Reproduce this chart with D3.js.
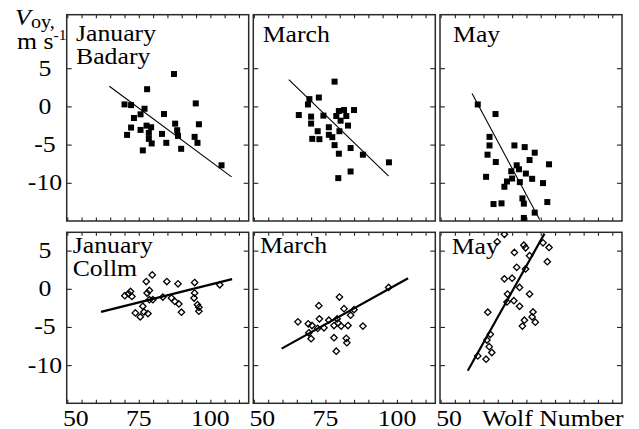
<!DOCTYPE html>
<html>
<head>
<meta charset="utf-8">
<script src="https://cdn.jsdelivr.net/npm/d3@7"></script>
</head>
<body style="margin:0;background:#fff">
<script>
// ---- axis setup ----
const wolfDomain = [49.8, 113.4];
const wolfTicks = d3.range(50, 115, 5);
const wolfLabels = [50, 75, 100];
const vTicks = [5, 0, -5, -10];
const topVDomain = [-15, 12];
const bottomVDomain = [-15, 7.4];

// ---- Badary (filled squares): [Wolf number, Voy m/s] ----
const badaryJanuary = [
  [70.0, 0.26], [72.3, 0.17], [77.9, 2.25], [87.3, 4.24], [94.9, 0.39], [77.0, -0.31],
  [75.6, -1.04], [83.8, -1.0], [73.3, -1.52], [87.7, -2.26], [96.0, -2.34], [72.3, -2.77],
  [77.7, -2.52], [79.3, -2.73], [88.4, -3.12], [75.6, -3.08], [78.5, -3.47], [70.9, -3.73],
  [83.1, -3.6], [88.7, -3.86], [94.5, -3.99], [78.5, -4.25], [84.6, -4.77], [79.5, -4.85],
  [95.5, -4.77], [89.8, -5.55], [76.4, -5.76], [103.9, -7.71]
];
const badaryMarch = [
  [78.2, 3.24], [69.4, 0.95], [72.7, 1.16], [68.9, 0.25], [65.7, -1.13], [70.0, -1.34],
  [74.3, -1.21], [79.7, -0.61], [81.5, -0.48], [85.0, -0.48], [78.8, -1.26], [82.3, -1.26],
  [80.3, -1.87], [70.0, -2.25], [82.9, -2.51], [76.2, -2.73], [72.3, -3.25], [79.9, -3.25],
  [76.2, -3.72], [77.4, -4.03], [70.4, -4.25], [72.9, -4.29], [78.2, -5.07], [83.8, -5.45],
  [79.7, -6.19], [88.1, -6.32], [97.2, -7.32], [83.8, -8.52], [79.5, -9.39]
];
const badaryMay = [
  [63.0, 0.25], [69.2, -1.0], [67.1, -3.99], [67.1, -5.11], [75.8, -5.11], [79.4, -5.33],
  [82.9, -6.06], [66.4, -6.32], [81.1, -7.02], [69.3, -7.28], [87.9, -7.58], [76.6, -7.71],
  [77.4, -8.23], [74.7, -8.49], [79.8, -8.79], [65.9, -9.22], [82.0, -9.48], [75.0, -9.44],
  [73.2, -9.83], [77.7, -9.91], [85.8, -10.04], [72.3, -10.52], [78.6, -12.04], [87.3, -12.52],
  [68.5, -12.78], [71.3, -12.69], [79.1, -12.73], [82.9, -13.9], [79.1, -14.6]
];

// ---- Collm (open diamonds): [Wolf number, Voy m/s] ----
const collmJanuary = [
  [79.7, 1.82], [77.6, 0.95], [84.8, 0.95], [88.7, 0.65], [94.5, 0.82], [103.3, 0.52],
  [78.7, -0.22], [72.1, -0.35], [71.4, -0.65], [70.1, -0.91], [72.6, -1.0], [77.9, -0.56],
  [83.4, -1.08], [86.4, -1.21], [94.5, -0.56], [94.3, -1.21], [79.9, -1.43], [78.7, -1.43],
  [87.6, -1.65], [89.0, -1.99], [95.5, -2.08], [96.0, -2.42], [76.4, -2.29], [96.0, -2.94],
  [89.9, -3.07], [76.8, -3.03], [78.2, -3.25], [73.8, -3.16], [75.5, -3.68]
];
const collmMarch = [
  [79.9, -1.08], [72.7, -2.21], [81.5, -2.6], [85.0, -2.73], [83.8, -3.46], [72.9, -3.94],
  [76.2, -4.11], [79.1, -3.94], [65.4, -4.33], [69.0, -4.59], [70.3, -4.81], [79.4, -4.46],
  [78.0, -4.81], [80.5, -4.89], [82.9, -4.81], [72.3, -5.19], [74.5, -5.11], [88.1, -4.89],
  [69.2, -5.76], [70.0, -6.54], [78.0, -6.41], [82.3, -6.49], [82.5, -7.06], [78.8, -8.18],
  [97.1, 0.17]
];
const collmMay = [
  [72.3, 7.14], [69.8, 6.15], [79.1, 5.71], [79.7, 5.37], [75.8, 4.76], [85.8, 6.02],
  [87.9, 5.41], [81.1, 4.33], [87.3, 3.55], [76.6, 2.81], [79.7, 2.6], [72.3, 1.3],
  [75.0, 1.39], [77.6, 0.17], [73.4, -0.69], [81.1, -0.69], [75.6, -1.56], [73.2, -1.73],
  [77.6, -2.29], [66.5, -3.07], [82.3, -3.03], [82.0, -3.68], [79.3, -4.11], [83.1, -4.37],
  [78.6, -4.89], [67.4, -5.97], [66.2, -6.71], [67.0, -7.58], [67.9, -8.35], [63.0, -8.79],
  [65.9, -9.22]
];

// ---- linear fits: start and end points ----
const fitBadaryJanuary = [[64.7, 2.64], [107.4, -9.23]];
const fitBadaryMarch = [[62.2, 3.5], [97.1, -9.14]];
const fitBadaryMay = [[61.0, 1.68], [84.6, -14.8]];
const fitCollmJanuary = [[61.8, -3.03], [107.6, 1.26]];
const fitCollmMarch = [[59.7, -7.84], [103.9, 1.39]];
const fitCollmMay = [[59.5, -10.74], [86.3, 7.23]];

// ---- layout ----
const W = 639, H = 429;
const FS = 23, SX = 1.12;          // font size and horizontal stretch of the serif text
const colLeft = [66.7, 253.3, 440];
const panelW = 182;
const rows = [
  { top: 14.7, bottom: 221, domain: topVDomain },
  { top: 232.3, bottom: 403.3, domain: bottomVDomain }
];

const panels = [
  { row: 0, col: 0, data: badaryJanuary, fit: fitBadaryJanuary, mark: "square", title: ["January", "Badary"], tx: 9.3, ty: 40.7 },
  { row: 0, col: 1, data: badaryMarch, fit: fitBadaryMarch, mark: "square", title: ["March"], tx: 9.4, ty: 41.7 },
  { row: 0, col: 2, data: badaryMay, fit: fitBadaryMay, mark: "square", title: ["May"], tx: 13, ty: 41.7 },
  { row: 1, col: 0, data: collmJanuary, fit: fitCollmJanuary, mark: "diamond", title: ["January", "Collm"], tx: 6, ty: 252.7 },
  { row: 1, col: 1, data: collmMarch, fit: fitCollmMarch, mark: "diamond", title: ["March"], tx: 6.7, ty: 253.3 },
  { row: 1, col: 2, data: collmMay, fit: fitCollmMay, mark: "diamond", title: ["May"], tx: 11.7, ty: 254 }
];

const svg = d3.select("body").append("svg").attr("width", W).attr("height", H).style("display", "block");
svg.append("rect").attr("width", W).attr("height", H).attr("fill", "#fff");
const defs = svg.append("defs");

function label(g, x, y, s, size, anchor, italic) {
  const t = g.append("text")
    .attr("transform", `translate(${x},${y}) scale(${SX},1)`)
    .attr("font-size", size)
    .style("font-family", '"Liberation Serif"')
    .attr("fill", "#000")
    .attr("text-anchor", anchor || "start")
    .text(s);
  if (italic) t.style("font-style", "italic");
  return t;
}

panels.forEach((p, i) => {
  const r = rows[p.row];
  const left = colLeft[p.col];
  const x = d3.scaleLinear().domain(wolfDomain).range([left, left + panelW]);
  const y = d3.scaleLinear().domain(r.domain).range([r.bottom, r.top]);
  const g = svg.append("g");

  defs.append("clipPath").attr("id", "clip" + i)
    .append("rect").attr("x", left).attr("y", r.top).attr("width", panelW).attr("height", r.bottom - r.top);

  // inward ticks on all four sides
  const tickStyle = sel => { sel.select(".domain").remove(); sel.selectAll("line").attr("stroke", "#222").attr("stroke-width", 1.1); };
  g.append("g").attr("transform", `translate(0,${r.bottom})`)
    .call(d3.axisBottom(x).tickValues(wolfTicks).tickSize(-3.5).tickFormat("")).call(tickStyle);
  g.append("g").attr("transform", `translate(0,${r.top})`)
    .call(d3.axisTop(x).tickValues(wolfTicks).tickSize(-3.5).tickFormat("")).call(tickStyle);
  g.append("g").attr("transform", `translate(${left},0)`)
    .call(d3.axisLeft(y).tickValues(vTicks).tickSize(-5).tickFormat("")).call(tickStyle);
  g.append("g").attr("transform", `translate(${left + panelW},0)`)
    .call(d3.axisRight(y).tickValues(vTicks).tickSize(-5).tickFormat("")).call(tickStyle);

  // frame
  g.append("rect").attr("x", left).attr("y", r.top).attr("width", panelW).attr("height", r.bottom - r.top)
    .attr("fill", "none").attr("stroke", "#2a2a2a").attr("stroke-width", 1.5);

  const plot = g.append("g").attr("clip-path", `url(#clip${i})`);

  // fitted line
  plot.append("line")
    .attr("x1", x(p.fit[0][0])).attr("y1", y(p.fit[0][1]))
    .attr("x2", x(p.fit[1][0])).attr("y2", y(p.fit[1][1]))
    .attr("stroke", "#000").attr("stroke-width", p.mark === "square" ? 1.1 : 2.2);

  // observations
  if (p.mark === "square") {
    plot.selectAll("rect.pt").data(p.data).join("rect").attr("class", "pt")
      .attr("x", d => x(d[0]) - 3).attr("y", d => y(d[1]) - 3)
      .attr("width", 6).attr("height", 6).attr("fill", "#000");
  } else {
    const s = 3.2;
    plot.selectAll("path.pt").data(p.data).join("path").attr("class", "pt")
      .attr("d", d => { const cx = x(d[0]), cy = y(d[1]); return `M${cx},${cy - s}L${cx + s},${cy}L${cx},${cy + s}L${cx - s},${cy}Z`; })
      .attr("fill", "none").attr("stroke", "#000").attr("stroke-width", 1.3);
  }

  // panel title
  p.title.forEach((t, k) => label(g, left + p.tx, p.ty + k * 23, t, FS));

  // V tick labels on the left column
  if (p.col === 0) {
    vTicks.forEach(v => label(g, 45, y(v) + 7.5, String(v), FS, "middle"));
  }

  // Wolf number labels under the bottom row
  if (p.row === 1) {
    const shown = p.col === 2 ? [50] : wolfLabels;
    shown.forEach(v => label(g, x(v) + (v === 50 ? 8.5 : 0), 425.5, String(v), FS, "middle"));
    if (p.col === 2) label(g, 482, 425.5, "Wolf Number", FS);
  }
});

// axis title: V_oy, m s^-1
const yt = svg.append("g");
label(yt, 15, 25, "V", FS, "start", true);
label(yt, 31, 27.5, "oy,", 18);
label(yt, 17, 49, "m s", FS);
label(yt, 53.5, 40, "-1", 14);
</script>
</body>
</html>
